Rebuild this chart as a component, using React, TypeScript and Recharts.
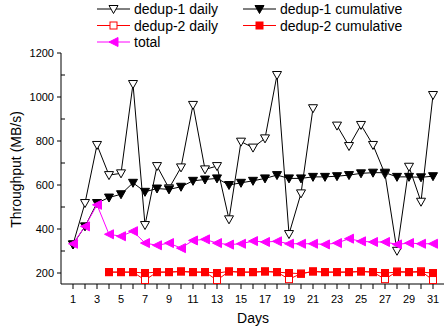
import React from 'react';
import { LineChart, Line, XAxis, YAxis, Label } from 'recharts';

const days = [1, 2, 3, 4, 5, 6, 7, 8, 9, 10, 11, 12, 13, 14, 15, 16, 17, 18, 19, 20, 21, 22, 23, 24, 25, 26, 27, 28, 29, 30, 31];

const dedup1Daily = [330, 518, 782, 645, 653, 1059, 418, 686, 585, 680, 964, 671, 686, 444, 797, 770, 812, 1100, 377, 562, 949, null, 870, 777, 873, 782, 650, 301, 683, 524, 1009];
const dedup1Cumulative = [330, 412, 518, 543, 558, 610, 569, 584, 580, 592, 619, 625, 630, 600, 610, 619, 630, 645, 630, 630, 637, 637, 640, 645, 653, 656, 656, 637, 637, 635, 640];
const dedup2Daily = [null, null, null, 204, 204, 204, 168, 204, 204, 207, 204, 204, 168, 207, 204, 204, 207, 204, 172, 197, 207, 204, 204, 204, 207, 204, 172, 207, 204, 208, 168];
const dedup2Cumulative = [null, null, null, 204, 204, 204, 200, 204, 204, 207, 204, 204, 200, 207, 204, 204, 207, 204, 200, 197, 207, 204, 204, 204, 207, 204, 200, 204, 204, 204, 200];
const total = [333, 412, 510, 376, 367, 390, 336, 326, 336, 313, 348, 353, 336, 329, 333, 345, 341, 344, 333, 333, 333, 330, 336, 356, 344, 341, 341, 330, 336, 333, 333];

const yTicks = [200, 300, 400, 500, 600, 700, 800, 900, 1000, 1100, 1200];

const FONT = '"Liberation Sans", Arial, sans-serif';

type MarkerKind = 'openDown' | 'fillDown' | 'openSquare' | 'fillSquare' | 'left';

const series: { key: string; name: string; color: string; marker: MarkerKind; values: (number | null)[] }[] = [
  { key: 'd1Daily', name: 'dedup-1 daily', color: '#000000', marker: 'openDown', values: dedup1Daily },
  { key: 'd1Cum', name: 'dedup-1 cumulative', color: '#000000', marker: 'fillDown', values: dedup1Cumulative },
  { key: 'd2Daily', name: 'dedup-2 daily', color: '#ff0000', marker: 'openSquare', values: dedup2Daily },
  { key: 'd2Cum', name: 'dedup-2 cumulative', color: '#ff0000', marker: 'fillSquare', values: dedup2Cumulative },
  { key: 'total', name: 'total', color: '#ff00ff', marker: 'left', values: total },
];

const data = days.map((day, i) => {
  const row: Record<string, number | null> = { day };
  series.forEach((s) => {
    row[s.key] = s.values[i];
  });
  return row;
});

function Marker({ kind, cx, cy, color }: { kind: MarkerKind; cx: number; cy: number; color: string }) {
  switch (kind) {
    case 'openDown':
    case 'fillDown':
      return (
        <polygon
          points={`${cx - 4.5},${cy - 3.5} ${cx + 4.5},${cy - 3.5} ${cx},${cy + 4.5}`}
          fill={kind === 'fillDown' ? color : '#fff'}
          stroke={color}
          strokeWidth={1}
        />
      );
    case 'openSquare':
    case 'fillSquare':
      return (
        <rect
          x={cx - 3.5}
          y={cy - 3.5}
          width={7}
          height={7}
          fill={kind === 'fillSquare' ? color : '#fff'}
          stroke={color}
          strokeWidth={1}
        />
      );
    default:
      return (
        <polygon
          points={`${cx - 4.5},${cy} ${cx + 4.5},${cy - 4.5} ${cx + 4.5},${cy + 4.5}`}
          fill={color}
          stroke={color}
          strokeWidth={1}
        />
      );
  }
}

const makeDot = (kind: MarkerKind, color: string) => (props: any) => {
  const { cx, cy, index, value } = props;
  if (cx == null || cy == null || value == null || Number.isNaN(cy)) return <g key={`e-${index}`} />;
  return (
    <g key={`m-${index}`}>
      <Marker kind={kind} cx={cx} cy={cy} color={color} />
    </g>
  );
};

const LeftTick = (props: any) => {
  const { x, y, payload } = props;
  const v = payload.value;
  const major = v % 200 === 0;
  return (
    <g>
      <line x1={major ? x - 4 : x} x2={major ? x : x + 4} y1={y} y2={y} stroke="#000" />
      {major && (
        <text x={x - 7} y={y + 4} textAnchor="end" fontSize={11} fontFamily={FONT} fill="#000">
          {v}
        </text>
      )}
    </g>
  );
};

const RightTick = (props: any) => {
  const { x, y } = props;
  return <line x1={x - 4} x2={x} y1={y} y2={y} stroke="#000" />;
};

const BottomTick = (props: any) => {
  const { x, y, payload } = props;
  const v = payload.value;
  return (
    <g>
      <line x1={x} x2={x} y1={y} y2={y + 5} stroke="#000" />
      {v % 2 === 1 && (
        <text x={x} y={y + 19} textAnchor="middle" fontSize={11} fontFamily={FONT} fill="#000">
          {v}
        </text>
      )}
    </g>
  );
};

const TopTick = (props: any) => {
  const { x, y } = props;
  return <line x1={x} x2={x} y1={y} y2={y + 5} stroke="#000" />;
};

function LegendBox() {
  const rowY = [9, 25.5, 42];
  const colX = [97, 243];
  return (
    <svg width={444} height={52} style={{ position: 'absolute', left: 0, top: 0 }}>
      {series.map((s, i) => {
        const x0 = colX[i % 2];
        const cy = rowY[Math.floor(i / 2)];
        return (
          <g key={s.key}>
            <line x1={x0} x2={x0 + 33} y1={cy} y2={cy} stroke={s.color} strokeWidth={1} />
            <Marker kind={s.marker} cx={x0 + 16.5} cy={cy} color={s.color} />
            <text x={x0 + 37} y={cy + 5} fontSize={14} fontFamily={FONT} fill="#000">
              {s.name}
            </text>
          </g>
        );
      })}
    </svg>
  );
}

export default function App() {
  return (
    <div
      style={{
        position: 'fixed',
        left: 0,
        top: 0,
        width: 444,
        height: 335,
        overflow: 'hidden',
        background: '#fff',
        fontFamily: FONT,
      }}
    >
      <LineChart width={446} height={335} data={data} margin={{ top: 53, right: 1, bottom: 0, left: 0 }}>
        <XAxis
          dataKey="day"
          type="number"
          domain={[0, 32]}
          ticks={days}
          interval={0}
          tickSize={0}
          tickMargin={0}
          tickLine={false}
          tick={<BottomTick />}
          height={51}
          axisLine={{ stroke: '#000' }}
        >
          <Label
            content={(p: any) => {
              const vb = p.viewBox;
              return (
                <text x={vb.x + vb.width / 2} y={vb.y + 39} textAnchor="middle" fontSize={14} fontFamily={FONT} fill="#000">
                  Days
                </text>
              );
            }}
          />
        </XAxis>
        <XAxis
          xAxisId="top"
          dataKey="day"
          type="number"
          orientation="top"
          domain={[0, 32]}
          ticks={days}
          interval={0}
          tickSize={0}
          tickMargin={0}
          tickLine={false}
          tick={<TopTick />}
          height={0}
          axisLine={{ stroke: '#000' }}
        />
        <YAxis
          type="number"
          domain={[150, 1200]}
          ticks={yTicks}
          interval={0}
          width={61}
          tickSize={0}
          tickMargin={0}
          tickLine={false}
          tick={<LeftTick />}
          allowDataOverflow
          axisLine={{ stroke: '#000' }}
        >
          <Label
            content={(p: any) => {
              const vb = p.viewBox;
              const cy = vb.y + vb.height / 2 + 1;
              return (
                <text
                  x={21}
                  y={cy}
                  transform={`rotate(-90 21 ${cy})`}
                  textAnchor="middle"
                  fontSize={14}
                  fontFamily={FONT}
                  fill="#000"
                >
                  Throughput (MB/s)
                </text>
              );
            }}
          />
        </YAxis>
        <YAxis
          yAxisId="right"
          orientation="right"
          type="number"
          domain={[150, 1200]}
          ticks={yTicks}
          interval={0}
          width={0}
          tickSize={0}
          tickMargin={0}
          tickLine={false}
          tick={<RightTick />}
          allowDataOverflow
          axisLine={{ stroke: '#000' }}
        />
        {series.map((s) => (
          <Line
            key={s.key}
            dataKey={s.key}
            name={s.name}
            stroke={s.color}
            strokeWidth={1}
            dot={makeDot(s.marker, s.color)}
            activeDot={false}
            isAnimationActive={false}
          />
        ))}
      </LineChart>
      <LegendBox />
    </div>
  );
}
